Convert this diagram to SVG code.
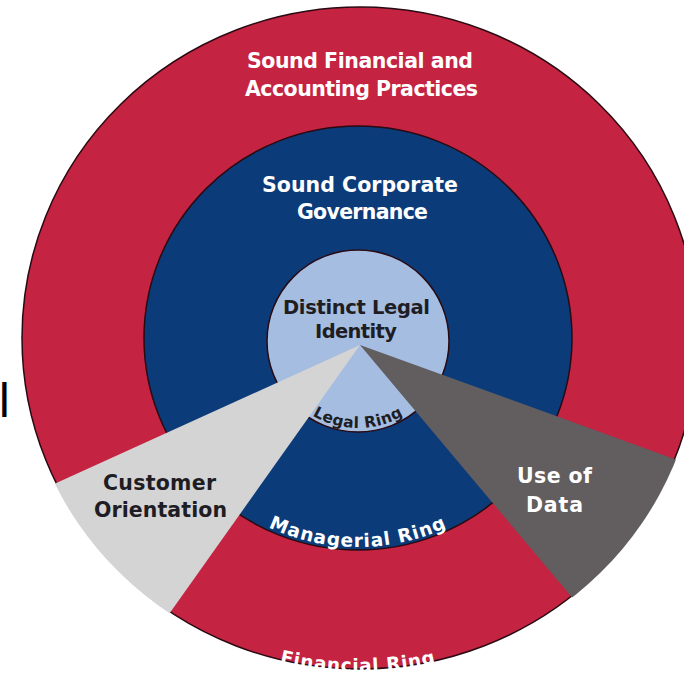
<svg xmlns="http://www.w3.org/2000/svg" xmlns:xlink="http://www.w3.org/1999/xlink" width="684" height="675" viewBox="0 0 684 675">
  <style>
    .lbl { font-family: "DejaVu Sans", "Open Sans", sans-serif; font-weight: bold; text-anchor: middle; }
    .w { fill: #ffffff; }
    .d { fill: #1f1d24; }
    .ring { stroke: #2a0a12; stroke-width: 1.5; }
  </style>
  <defs>
    <clipPath id="outerClip">
      <ellipse cx="360" cy="338" rx="339.5" ry="332.5"/>
    </clipPath>
    <path id="legalArc" d="M 270 341 A 88 87 0 0 0 446 341"/>
    <path id="managerialArc" d="M 148 338 A 210 209 0 0 0 568 338"/>
    <path id="financialArc" d="M 22 338 A 336 334 0 0 0 694 338"/>
  </defs>
  <rect width="684" height="675" fill="#ffffff"/>

  <g id="financial-ring">
    <ellipse class="ring" cx="360" cy="338" rx="338" ry="331" fill="#c42341"/>
  </g>
  <g id="managerial-ring">
    <ellipse class="ring" cx="358" cy="338" rx="214" ry="212" fill="#0c3b79"/>
  </g>
  <g id="legal-ring">
    <ellipse class="ring" cx="358" cy="341" rx="91" ry="91" fill="#a5bde1"/>
  </g>

  <g id="customer-orientation" clip-path="url(#outerClip)">
    <polygon points="360,345 -34,524 113,693" fill="#d4d4d4"/>
  </g>
  <g id="use-of-data" clip-path="url(#outerClip)">
    <polygon points="360,345 763,491 633,670" fill="#625d5e"/>
  </g>

  <g id="labels">
    <text class="lbl w" x="360" y="68" font-size="20.5" textLength="226">Sound Financial and</text>
    <text class="lbl w" x="361.5" y="96" font-size="20.5" textLength="233">Accounting Practices</text>
    <text class="lbl w" x="360" y="192" font-size="20.5" textLength="196">Sound Corporate</text>
    <text class="lbl w" x="362.5" y="219" font-size="20.5" textLength="131">Governance</text>
    <text class="lbl d" x="356.5" y="314" font-size="19.5" textLength="147">Distinct Legal</text>
    <text class="lbl d" x="356" y="338" font-size="19.5" textLength="82">Identity</text>
    <text class="lbl d" x="159.5" y="490" font-size="20.5" textLength="113">Customer</text>
    <text class="lbl d" x="160.5" y="517" font-size="20.5" textLength="133">Orientation</text>
    <text class="lbl w" x="554.5" y="483" font-size="20.5" textLength="75">Use of</text>
    <text class="lbl w" x="554.5" y="512" font-size="20.5" textLength="57">Data</text>
    <text class="lbl d" font-size="15.5" letter-spacing="0.4"><textPath xlink:href="#legalArc" href="#legalArc" startOffset="50%">Legal Ring</textPath></text>
    <text class="lbl w" font-size="18.5" letter-spacing="1"><textPath xlink:href="#managerialArc" href="#managerialArc" startOffset="50%">Managerial Ring</textPath></text>
    <text class="lbl w" font-size="18.5" letter-spacing="0.8"><textPath xlink:href="#financialArc" href="#financialArc" startOffset="50%">Financial Ring</textPath></text>
    <text x="-1" y="417" font-family="Liberation Sans, Arial, sans-serif" font-size="48" fill="#000000">l</text>
  </g>
</svg>
